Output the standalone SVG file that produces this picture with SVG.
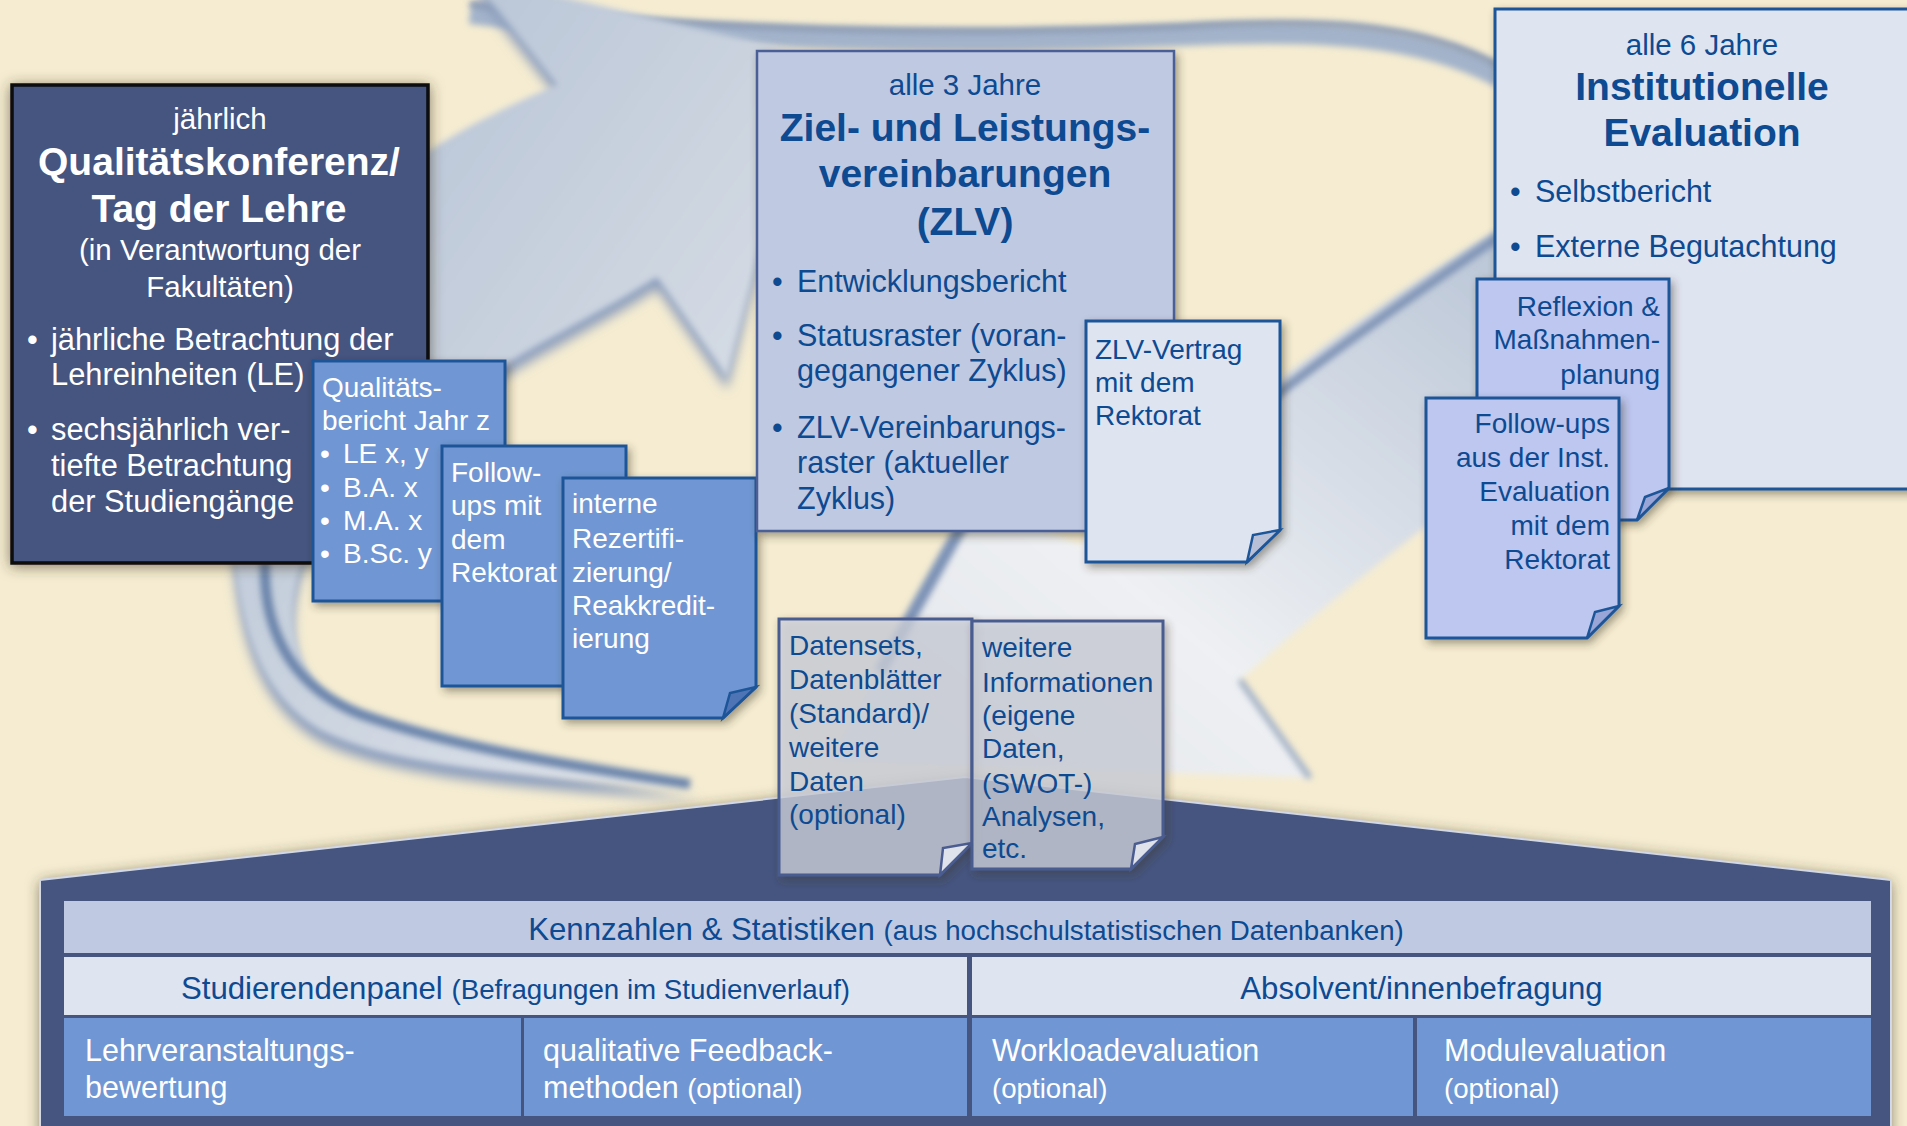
<svg xmlns="http://www.w3.org/2000/svg" width="1907" height="1126" viewBox="0 0 1907 1126">
<defs>
<style>
text{font-family:"Liberation Sans",Arial,sans-serif;}
.w{fill:#ffffff;}
.b{fill:#0d4a91;}
.t29{font-size:29.5px;}
.t30{font-size:30.8px;}
.t305{font-size:30.5px;}
.t28{font-size:28px;}
.t31{font-size:31.2px;}
.t275{font-size:27.7px;}
.bold{font-weight:bold;font-size:39px;}
.mid{text-anchor:middle;}
.end{text-anchor:end;}
.docM{fill:#7097d3;stroke:#1c5598;stroke-width:3;}
.docL{fill:#dfe4f1;stroke:#1c5598;stroke-width:3;}
.docV{fill:#bdc7f0;stroke:#1c5598;stroke-width:3;}
.docD{fill:#cfd2dd;fill-opacity:0.74;stroke:#4a5c90;stroke-width:3;}
.foldM{fill:#4e74b6;stroke:#1c5598;stroke-width:2.5;}
.foldL{fill:#b8c0d8;stroke:#1c5598;stroke-width:2.5;}
.foldV{fill:#99a5d6;stroke:#1c5598;stroke-width:2.5;}
.foldD{fill:#dfe2ea;stroke:#4a5c90;stroke-width:2.5;}
</style>
<filter id="sh" x="-10%" y="-10%" width="125%" height="125%"><feDropShadow dx="3" dy="4" stdDeviation="4" flood-color="#3b3420" flood-opacity="0.45"/></filter>
<filter id="shBig" x="-10%" y="-10%" width="125%" height="125%"><feDropShadow dx="0" dy="2" stdDeviation="7" flood-color="#3b3420" flood-opacity="0.6"/></filter>
<filter id="blur3" x="-20%" y="-20%" width="140%" height="140%"><feGaussianBlur stdDeviation="3"/></filter>
<filter id="blur6" x="-20%" y="-20%" width="140%" height="140%"><feGaussianBlur stdDeviation="6"/></filter>
<linearGradient id="gA" x1="0" y1="0" x2="1" y2="1">
<stop offset="0" stop-color="#aebdd2"/>
<stop offset="0.55" stop-color="#cdd5e0"/>
<stop offset="1" stop-color="#e6e9ee"/>
</linearGradient>
<linearGradient id="gB" x1="0" y1="1" x2="1" y2="0">
<stop offset="0" stop-color="#dfe3ea"/>
<stop offset="0.4" stop-color="#eef0f3"/>
<stop offset="1" stop-color="#b9c5d6"/>
</linearGradient>
</defs>

<rect x="0" y="0" width="1907" height="1126" fill="#f5ecd1"/>

<g id="connectors">
<path d="M 470,14 C 700,40 950,46 1180,36 C 1320,30 1420,34 1500,78" fill="none" stroke="#a3b3ca" stroke-width="20" filter="url(#blur3)"/>
<path d="M 470,4 C 700,30 950,36 1180,26 C 1320,18 1420,22 1500,66" fill="none" stroke="#7286aa" stroke-width="5" filter="url(#blur3)"/>
<path d="M 1500,228 C 1400,290 1300,360 1230,420 L 1080,545 L 975,500 L 830,760 L 1310,778 L 1240,680 C 1330,600 1420,530 1500,470 Z" fill="url(#gB)" filter="url(#blur3)"/>
<path d="M 1500,236 C 1420,290 1340,345 1270,400" fill="none" stroke="#8094b6" stroke-width="9" filter="url(#blur3)"/>
<path d="M 975,502 L 880,672" fill="none" stroke="#7c92b6" stroke-width="12" filter="url(#blur3)"/>
<path d="M 1240,680 L 1310,778" fill="none" stroke="#9eaec6" stroke-width="6" filter="url(#blur3)"/>
<path d="M 557,97 L 470,-13 L 810,67 L 727,389 L 657,289 C 590,332 520,362 470,402 C 400,462 320,522 300,582 C 285,632 295,682 330,707 C 380,737 460,757 700,800 C 480,787 380,772 320,742 C 270,712 245,662 235,579 C 225,492 250,392 300,292 C 350,202 450,142 557,97 Z" fill="#8d9fbd" filter="url(#blur6)"/>
<path d="M 557,85 L 470,-25 L 810,55 L 727,377 L 657,277 C 590,320 520,350 470,390 C 400,450 320,510 300,570 C 285,620 295,670 330,695 C 380,725 460,745 700,788 C 480,775 380,760 320,730 C 270,700 245,650 235,567 C 225,480 250,380 300,280 C 350,190 450,130 557,85 Z" fill="url(#gA)" filter="url(#blur3)"/>
<path d="M 265,560 C 262,640 300,690 360,714 C 450,746 560,764 690,784" fill="none" stroke="#6a84ab" stroke-width="10" filter="url(#blur3)"/>
</g>

<g id="qualitaetskonferenz">
<rect x="12" y="85" width="416" height="478" fill="#44547f" stroke="#0b0b10" stroke-width="3.5" filter="url(#shBig)"/>
<text class="w t29 mid" x="220" y="129">jährlich</text>
<text class="w bold mid" x="219" y="175">Qualitätskonferenz/</text>
<text class="w bold mid" x="219" y="222">Tag der Lehre</text>
<text class="w t29 mid" x="220" y="260">(in Verantwortung der</text>
<text class="w t29 mid" x="220" y="297">Fakultäten)</text>
<text class="w t30" x="27" y="350">•</text>
<text class="w t30" x="51" y="350">jährliche Betrachtung der</text>
<text class="w t30" x="51" y="385">Lehreinheiten (LE)</text>
<text class="w t30" x="27" y="440">•</text>
<text class="w t30" x="51" y="440">sechsjährlich ver-</text>
<text class="w t30" x="51" y="476">tiefte Betrachtung</text>
<text class="w t30" x="51" y="512">der Studiengänge</text>
</g>

<g id="qualitaetsbericht">
<rect class="docM" x="313" y="361" width="192" height="240" filter="url(#sh)"/>
<text class="w t28" x="322" y="397">Qualitäts-</text>
<text class="w t28" x="322" y="430">bericht Jahr z</text>
<text class="w t28" x="320" y="463">•</text>
<text class="w t28" x="343" y="463">LE x, y</text>
<text class="w t28" x="320" y="497">•</text>
<text class="w t28" x="343" y="497">B.A. x</text>
<text class="w t28" x="320" y="530">•</text>
<text class="w t28" x="343" y="530">M.A. x</text>
<text class="w t28" x="320" y="563">•</text>
<text class="w t28" x="343" y="563">B.Sc. y</text>
</g>

<g id="followups-rektorat">
<rect class="docM" x="442" y="446" width="184" height="240" filter="url(#sh)"/>
<text class="w t28" x="451" y="482">Follow-</text>
<text class="w t28" x="451" y="515">ups mit</text>
<text class="w t28" x="451" y="549">dem</text>
<text class="w t28" x="451" y="582">Rektorat</text>
</g>

<g id="interne-rezertifizierung">
<path class="docM" d="M 563,478 H 756 V 687 L 723,718 H 563 Z" filter="url(#sh)"/>
<path class="foldM" d="M 756,687 L 730,693 L 723,718 Z"/>
<text class="w t28" x="572" y="513">interne</text>
<text class="w t28" x="572" y="548">Rezertifi-</text>
<text class="w t28" x="572" y="582">zierung/</text>
<text class="w t28" x="572" y="615">Reakkredit-</text>
<text class="w t28" x="572" y="648">ierung</text>
</g>

<g id="zlv">
<rect x="757" y="51" width="417" height="480" fill="#bfc9e2" stroke="#4a5e95" stroke-width="2.5" filter="url(#sh)"/>
<text class="b t29 mid" x="965" y="95">alle 3 Jahre</text>
<text class="b bold mid" x="965" y="141">Ziel- und Leistungs-</text>
<text class="b bold mid" x="965" y="187">vereinbarungen</text>
<text class="b bold mid" x="965" y="235">(ZLV)</text>
<text class="b t305" x="772" y="292">•</text>
<text class="b t305" x="797" y="292">Entwicklungsbericht</text>
<text class="b t305" x="772" y="346">•</text>
<text class="b t305" x="797" y="346">Statusraster (voran-</text>
<text class="b t305" x="797" y="381">gegangener Zyklus)</text>
<text class="b t305" x="772" y="438">•</text>
<text class="b t305" x="797" y="438">ZLV-Vereinbarungs-</text>
<text class="b t305" x="797" y="473">raster (aktueller</text>
<text class="b t305" x="797" y="509">Zyklus)</text>
</g>

<g id="zlv-vertrag">
<path class="docL" d="M 1086,321 H 1280 V 530 L 1247,562 H 1086 Z" filter="url(#sh)"/>
<path class="foldL" d="M 1280,530 L 1253,535 L 1247,562 Z"/>
<text class="b t28" x="1095" y="359">ZLV-Vertrag</text>
<text class="b t28" x="1095" y="392">mit dem</text>
<text class="b t28" x="1095" y="425">Rektorat</text>
</g>

<g id="institutionelle-evaluation">
<rect x="1495" y="9" width="430" height="480" fill="#dfe4f1" stroke="#1c5598" stroke-width="3" filter="url(#sh)"/>
<text class="b t29 mid" x="1702" y="55">alle 6 Jahre</text>
<text class="b bold mid" x="1702" y="100">Institutionelle</text>
<text class="b bold mid" x="1702" y="146">Evaluation</text>
<text class="b t305" x="1510" y="202">•</text>
<text class="b t305" x="1535" y="202">Selbstbericht</text>
<text class="b t305" x="1510" y="257">•</text>
<text class="b t305" x="1535" y="257">Externe Begutachtung</text>
</g>

<g id="reflexion">
<path class="docV" d="M 1477,279 H 1669 V 488 L 1637,520 H 1477 Z" filter="url(#sh)"/>
<path class="foldV" d="M 1669,488 L 1645,497 L 1637,520 Z"/>
<text class="b t28 end" x="1660" y="316">Reflexion &amp;</text>
<text class="b t28 end" x="1660" y="349">Maßnahmen-</text>
<text class="b t28 end" x="1660" y="384">planung</text>
</g>

<g id="followups-inst">
<path class="docV" d="M 1426,398 H 1619 V 606 L 1587,638 H 1426 Z" filter="url(#sh)"/>
<path class="foldV" d="M 1619,606 L 1595,612 L 1587,638 Z"/>
<text class="b t28 end" x="1610" y="433">Follow-ups</text>
<text class="b t28 end" x="1610" y="467">aus der Inst.</text>
<text class="b t28 end" x="1610" y="501">Evaluation</text>
<text class="b t28 end" x="1610" y="535">mit dem</text>
<text class="b t28 end" x="1610" y="569">Rektorat</text>
</g>

<g id="datenbasis">
<path d="M 40,880 L 965,777 L 1891,880 L 1891,1140 L 40,1140 Z" fill="#44547f" filter="url(#shBig)"/>
<path d="M 40,1140 L 40,880 L 965,777 L 1891,880 L 1891,1140" fill="none" stroke="#d3d8e6" stroke-width="2"/>
<rect x="64" y="901" width="1807" height="52" fill="#bfc9e2"/>
<rect x="64" y="957" width="903" height="58" fill="#dfe4f1"/>
<rect x="972" y="957" width="899" height="58" fill="#dfe4f1"/>
<rect x="64" y="1018" width="457" height="98" fill="#7097d3"/>
<rect x="524" y="1018" width="443" height="98" fill="#7097d3"/>
<rect x="972" y="1018" width="441" height="98" fill="#7097d3"/>
<rect x="1417" y="1018" width="454" height="98" fill="#7097d3"/>
<text class="b mid" x="966" y="940"><tspan class="t31">Kennzahlen &amp; Statistiken </tspan><tspan class="t275">(aus hochschulstatistischen Datenbanken)</tspan></text>
<text class="b mid" x="515.5" y="999"><tspan class="t31">Studierendenpanel </tspan><tspan class="t275">(Befragungen im Studienverlauf)</tspan></text>
<text class="b t31 mid" x="1421.5" y="999">Absolvent/innenbefragung</text>
<text class="w t305" x="85" y="1061">Lehrveranstaltungs-</text>
<text class="w t305" x="85" y="1098">bewertung</text>
<text class="w t305" x="543" y="1061">qualitative Feedback-</text>
<text class="w" x="543" y="1098"><tspan class="t305">methoden </tspan><tspan class="t275">(optional)</tspan></text>
<text class="w t305" x="992" y="1061">Workloadevaluation</text>
<text class="w t275" x="992" y="1098">(optional)</text>
<text class="w t305" x="1444" y="1061">Modulevaluation</text>
<text class="w t275" x="1444" y="1098">(optional)</text>
</g>

<g id="datensets">
<path class="docD" d="M 779,619 H 972 V 843 L 940,875 H 779 Z" filter="url(#sh)"/>
<path class="foldD" d="M 972,843 L 943,848 L 940,875 Z"/>
<text class="b t28" x="789" y="655">Datensets,</text>
<text class="b t28" x="789" y="689">Datenblätter</text>
<text class="b t28" x="789" y="723">(Standard)/</text>
<text class="b t28" x="789" y="757">weitere</text>
<text class="b t28" x="789" y="791">Daten</text>
<text class="b t28" x="789" y="824">(optional)</text>
</g>

<g id="weitere-informationen">
<path class="docD" d="M 972,621 H 1163 V 837 L 1131,869 H 972 Z" filter="url(#sh)"/>
<path class="foldD" d="M 1163,837 L 1135,844 L 1131,869 Z"/>
<text class="b t28" x="982" y="657">weitere</text>
<text class="b t28" x="982" y="692">Informationen</text>
<text class="b t28" x="982" y="725">(eigene</text>
<text class="b t28" x="982" y="758">Daten,</text>
<text class="b t28" x="982" y="793">(SWOT-)</text>
<text class="b t28" x="982" y="826">Analysen,</text>
<text class="b t28" x="982" y="858">etc.</text>
</g>
</svg>
